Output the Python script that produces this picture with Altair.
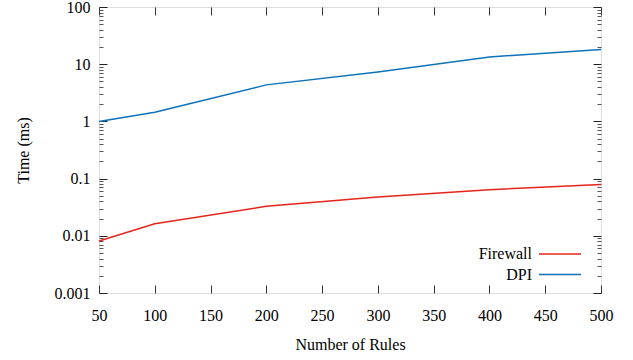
import altair as alt
import pandas as pd

rules = [50, 100, 200, 300, 400, 500]
firewall = [0.0081, 0.0163, 0.0327, 0.0475, 0.064, 0.079]
dpi = [1.0, 1.44, 4.35, 7.3, 13.4, 18.1]

series_names = ["Firewall", "DPI"]
series_colors = ["#e8231c", "#0c72ba"]

x_ticks = [50, 100, 150, 200, 250, 300, 350, 400, 450, 500]
y_major = [0.001, 0.01, 0.1, 1, 10, 100]
y_minor = [m * d for d in [0.001, 0.01, 0.1, 1, 10] for m in range(2, 10)]

rows = []
for r, f, d in zip(rules, firewall, dpi):
    rows.append({"rules": r, "time": f, "series": "Firewall"})
    rows.append({"rules": r, "time": d, "series": "DPI"})
df = pd.DataFrame(rows)

W, H = 502, 286
FONT = "Liberation Serif"

xscale = alt.Scale(domain=[50, 500], nice=False, zero=False)
yscale = alt.Scale(type="log", domain=[0.001, 100], nice=False)

base = alt.Chart(df)

lines = base.mark_line(strokeWidth=1.5).encode(
    x=alt.X("rules:Q", scale=xscale,
            axis=alt.Axis(values=x_ticks, title="Number of Rules", ticks=False,
                          domain=False, grid=False, labelPadding=14,
                          labelFontSize=16, labelFont=FONT, labelColor="black",
                          titleFont=FONT, titleFontSize=16, titleFontWeight="normal",
                          titleColor="black", titleX=251, titleY=51,
                          titleBaseline="middle", titleAlign="center",
                          labelFlush=False, labelOverlap=False)),
    y=alt.Y("time:Q", scale=yscale,
            axis=alt.Axis(values=y_major, title="Time (ms)", ticks=False,
                          domain=False, grid=False, labelPadding=9,
                          format="~g", labelFontSize=16, labelFont=FONT,
                          labelColor="black", titleFont=FONT, titleFontSize=16,
                          titleFontWeight="normal", titleColor="black",
                          titleX=-76, titleY=143, titleAngle=270,
                          titleAlign="center", titleBaseline="middle",
                          labelFlush=False, labelOverlap=False)),
    color=alt.Color("series:N",
                    scale=alt.Scale(domain=series_names, range=series_colors),
                    sort=series_names,
                    legend=alt.Legend(orient="none", legendX=453, legendY=239,
                                      title=None, symbolType="M-4,0H4",
                                      symbolSize=110, symbolStrokeWidth=1.5,
                                      labelFont=FONT, labelFontSize=16,
                                      labelColor="black", labelAlign="right",
                                      labelOffset={"expr": "-36"},
                                      rowPadding=4.5,
                                      labelLimit=200)),
)


def tick_layer(xaxis, yaxis):
    enc = {}
    enc["x"] = alt.X("rules:Q", scale=xscale, axis=xaxis)
    enc["y"] = alt.Y("time:Q", scale=yscale, axis=yaxis)
    return base.mark_point(opacity=0).encode(**enc)


def xtick(orient):
    return alt.Axis(orient=orient, offset=-H, values=x_ticks, labels=False,
                    title=None, domain=False, grid=False, tickSize=8,
                    tickColor="#333333", tickWidth=1)


def ytick(orient, vals, size, color):
    return alt.Axis(orient=orient, offset=-W, values=vals, labels=False,
                    title=None, domain=False, grid=False, tickSize=size,
                    tickColor=color, tickWidth=1)


layer_a = tick_layer(xtick("top"), ytick("right", y_major, 8, "#222222"))
layer_b = tick_layer(xtick("bottom"), ytick("left", y_major, 8, "#222222"))
layer_c = tick_layer(None, ytick("right", y_minor, 4, "#555555"))
layer_d = tick_layer(None, ytick("left", y_minor, 4, "#555555"))

chart = alt.layer(layer_a, layer_b, layer_c, layer_d, lines).resolve_axis(
    x="independent", y="independent"
).properties(
    width=W, height=H,
    autosize=alt.AutoSizeParams(type="none"),
    padding={"left": 99, "top": 7, "right": 32, "bottom": 67},
).configure_view(stroke="#111111", strokeWidth=1.5).configure(
    background="white"
)

chart.save("out.html", embed_options={"renderer": "svg", "actions": False})
